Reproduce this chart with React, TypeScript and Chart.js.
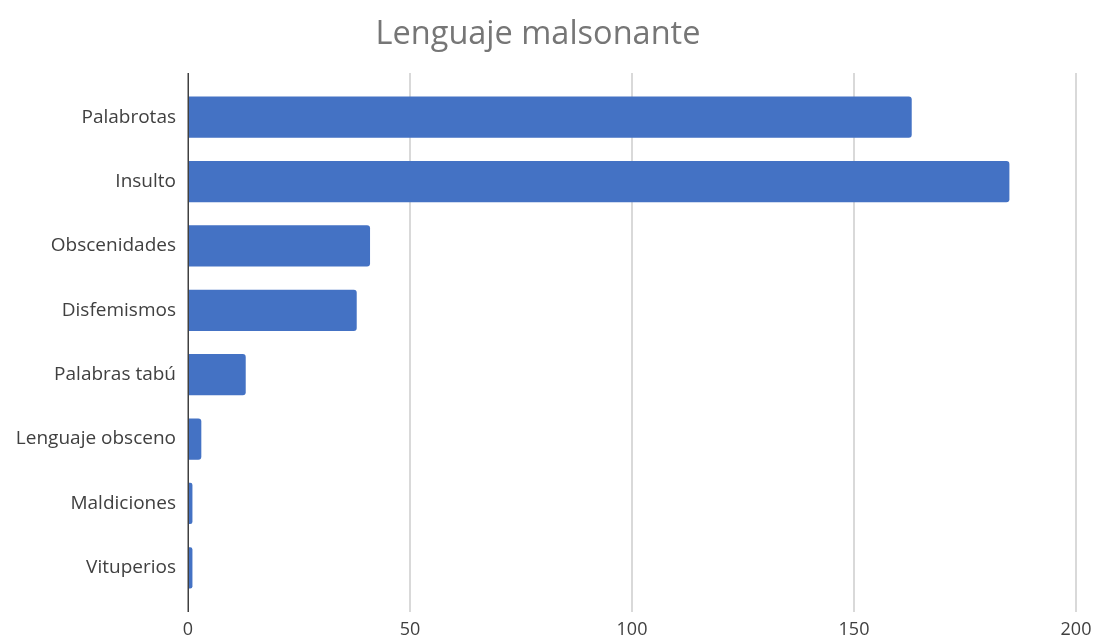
import React, { useEffect, useRef } from "react";
import { Chart, registerables } from "chart.js";

Chart.register(...registerables);

const categories = [
  "Palabrotas",
  "Insulto",
  "Obscenidades",
  "Disfemismos",
  "Palabras tabú",
  "Lenguaje obsceno",
  "Maldiciones",
  "Vituperios",
];
const values = [163, 185, 41, 38, 13, 3, 1, 1];
const xTicks = [0, 50, 100, 150, 200];
const titleText = "Lenguaje malsonante";

const FONT = "'Open Sans', 'Liberation Sans', sans-serif";

const extendedGrid = {
  id: "extendedGrid",
  beforeDatasetsDraw(chart: any) {
    const { ctx, chartArea, scales } = chart;
    const ext = 12;
    const top = chartArea.top - ext;
    const bottom = chartArea.bottom + ext;
    ctx.save();
    ctx.strokeStyle = "#d9d9d9";
    ctx.lineWidth = 2;
    for (const v of xTicks) {
      if (v === 0) continue;
      const x = Math.round(scales.x.getPixelForValue(v));
      ctx.beginPath();
      ctx.moveTo(x, top);
      ctx.lineTo(x, bottom);
      ctx.stroke();
    }
    ctx.restore();
  },
  afterDatasetsDraw(chart: any) {
    const { ctx, chartArea, scales } = chart;
    const ext = 12;
    ctx.save();
    ctx.strokeStyle = "#404040";
    ctx.lineWidth = 1.5;
    const x = Math.round(scales.x.getPixelForValue(0)) + 0.25;
    ctx.beginPath();
    ctx.moveTo(x, chartArea.top - ext);
    ctx.lineTo(x, chartArea.bottom + ext);
    ctx.stroke();
    ctx.restore();
  },
};

export default function App() {
  const ref = useRef<HTMLCanvasElement | null>(null);
  useEffect(() => {
    if (!ref.current) return;
    const chart = new Chart(ref.current, {
      type: "bar",
      data: {
        labels: categories,
        datasets: [
          {
            data: values,
            backgroundColor: "#4472C4",
            borderRadius: { topRight: 3, bottomRight: 3, topLeft: 0, bottomLeft: 0 },
            borderSkipped: false,
            categoryPercentage: 1,
            barPercentage: 0.64,
          },
        ],
      },
      options: {
        indexAxis: "y",
        animation: false,
        responsive: false,
        maintainAspectRatio: false,
        layout: { padding: { left: 0, right: 19, top: 0, bottom: 0 } },
        plugins: {
          legend: { display: false },
          tooltip: { enabled: false },
          title: {
            display: true,
            text: titleText,
            color: "#767676",
            font: { family: FONT, size: 32.5, weight: "normal" },
            padding: { top: 15, bottom: 31 },
          },
        },
        scales: {
          x: {
            type: "linear",
            min: 0,
            max: 200,
            afterBuildTicks: (s: any) => {
              s.ticks = xTicks.map((v) => ({ value: v }));
            },
            afterFit: (s: any) => {
              s.height = 43;
              s.paddingRight = 0;
              s.paddingLeft = 0;
            },
            grid: { display: false, drawTicks: false },
            border: { display: false },
            ticks: {
              color: "#404040",
              font: { family: FONT, size: 18 },
              padding: 19,
              maxRotation: 0,
            },
          },
          y: {
            type: "category",
            afterFit: (s: any) => {
              s.width = 188;
            },
            grid: { display: false, drawTicks: false },
            border: { display: false },
            ticks: {
              color: "#404040",
              font: { family: FONT, size: 19 },
              padding: 12,
            },
          },
        },
      },
      plugins: [extendedGrid],
    });
    return () => chart.destroy();
  }, []);
  return (
    <div style={{ position: "absolute", left: 0, top: 0, width: 1095, height: 643, background: "#fff" }}>
      <canvas ref={ref} width={1095} height={643} style={{ display: "block" }} />
    </div>
  );
}
